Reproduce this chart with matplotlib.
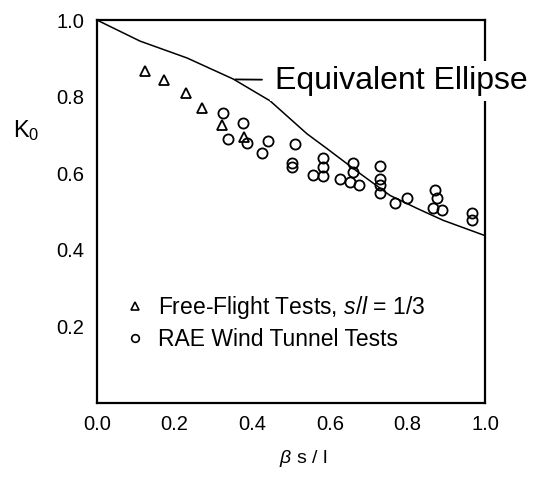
import matplotlib
matplotlib.use("Agg")
import matplotlib.pyplot as plt
from matplotlib.lines import Line2D

plt.rcParams['font.family'] = ['Liberation Sans', 'DejaVu Sans']
plt.rcParams['mathtext.fontset'] = 'custom'
plt.rcParams['mathtext.rm'] = 'Liberation Sans'
plt.rcParams['mathtext.it'] = 'Liberation Sans:italic'

# Equivalent ellipse curve
ellipse_x = [0.0, 0.111, 0.232, 0.351, 0.446, 0.541, 0.593, 0.678, 0.755, 0.825, 0.892, 1.0]
ellipse_y = [1.0, 0.945, 0.901, 0.846, 0.789, 0.703, 0.664, 0.599, 0.542, 0.508, 0.477, 0.437]

# Free-flight tests, s/l = 1/3
flight_x = [0.124, 0.173, 0.229, 0.271, 0.322, 0.379]
flight_y = [0.867, 0.844, 0.810, 0.771, 0.727, 0.695]

# RAE wind tunnel tests
rae_x = [0.325, 0.338, 0.376, 0.387, 0.441, 0.425, 0.510, 0.503, 0.503,
         0.582, 0.582, 0.582, 0.557, 0.660, 0.660, 0.626, 0.652, 0.675,
         0.729, 0.729, 0.729, 0.729, 0.768, 0.799, 0.871, 0.876, 0.866,
         0.889, 0.966, 0.966]
rae_y = [0.758, 0.690, 0.732, 0.680, 0.685, 0.654, 0.677, 0.628, 0.615,
         0.641, 0.617, 0.594, 0.596, 0.628, 0.602, 0.586, 0.576, 0.570,
         0.620, 0.586, 0.568, 0.549, 0.521, 0.536, 0.555, 0.534, 0.508,
         0.503, 0.495, 0.477]

xticks = [0.0, 0.2, 0.4, 0.6, 0.8, 1.0]
yticks = [0.2, 0.4, 0.6, 0.8, 1.0]

fig = plt.figure(figsize=(5.36, 4.78), dpi=100)
ax = fig.add_axes([0.181, 0.157, 0.724, 0.801])

ax.plot(ellipse_x, ellipse_y, color='black', lw=1.1)
ax.plot(flight_x, flight_y, linestyle='none', marker='^', ms=7.5,
        mfc='none', mec='black', mew=1.3)
ax.plot(rae_x, rae_y, linestyle='none', marker='o', ms=7.3,
        mfc='none', mec='black', mew=1.3)

ax.set_xlim(0, 1)
ax.set_ylim(0, 1)
ax.set_xticks(xticks)
ax.set_yticks(yticks)
ax.set_xticklabels([f'{v:.1f}' for v in xticks])
ax.set_yticklabels([f'{v:.1f}' for v in yticks])
ax.tick_params(length=0, labelsize=14.5, pad=9)
for s in ax.spines.values():
    s.set_linewidth(1.6)

ax.set_ylabel('K$_0$', rotation=0, fontsize=17, va='center', ha='center')
ax.yaxis.set_label_coords(-0.183, 0.711)
ax.set_xlabel(r'$\beta$ s / l', fontsize=14, va='center')
ax.xaxis.set_label_coords(0.531, -0.145)

ax.annotate('Equivalent Ellipse', xy=(0.356, 0.845), xytext=(0.459, 0.841),
            fontsize=23, va='center', ha='left', zorder=5,
            bbox=dict(boxstyle='square,pad=0.15', fc='white', ec='none'),
            arrowprops=dict(arrowstyle='-', color='black', lw=1.3,
                            shrinkA=6, shrinkB=0))

handles = [
    Line2D([], [], linestyle='none', marker='^', ms=6, mfc='none', mec='black', mew=1.2),
    Line2D([], [], linestyle='none', marker='o', ms=5.5, mfc='none', mec='black', mew=1.2),
]
labels = ['Free-Flight Tests, $\\it{s/l}$ = 1/3', 'RAE Wind Tunnel Tests']
ax.legend(handles, labels, loc='center left', bbox_to_anchor=(0.045, 0.21),
          frameon=False, fontsize=16.5, handlelength=0.8, handletextpad=0.6,
          labelspacing=0.3, borderpad=0)

fig.savefig('out.png', dpi=100)
